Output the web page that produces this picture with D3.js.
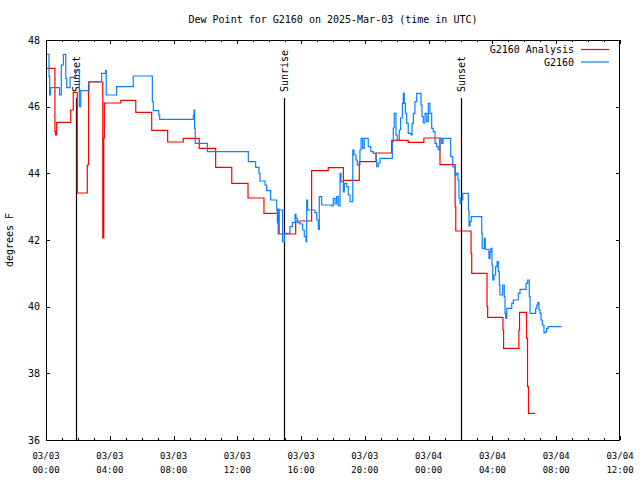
<!DOCTYPE html>
<html>
<head>
<meta charset="utf-8">
<script src="https://cdn.jsdelivr.net/npm/d3@7"></script>
<style>
  html, body { margin: 0; padding: 0; background: #fff; }
  svg { display: block; }
  text { font-family: "DejaVu Sans Mono", "Liberation Mono", monospace; fill: #000; }
</style>
</head>
<body>
<script>
// ---------------- DATA ----------------
const chartTitle = "Dew Point for G2160 on 2025-Mar-03 (time in UTC)";
const yLabel = "degrees F";
const seriesNames = ["G2160 Analysis", "G2160"];
const seriesColors = ["#ff0000", "#0a80ff"];

// hours since 2025-03-03 00:00 UTC
const redHours = [0, 0.56, 0.60, 0.67, 1.55, 1.71, 1.96, 2.59, 2.67, 3.56, 3.62, 3.66, 4.69, 5.63, 6.63, 7.63, 8.61, 9.61, 10.64, 11.65, 12.67, 13.67, 14.57, 15.66, 16.66, 17.70, 18.65, 19.65, 20.70, 21.68, 22.72, 23.70, 24.71, 25.66, 25.70, 26.66, 26.70, 27.66, 27.70, 28.66, 28.70, 29.66, 29.70, 30.14, 30.20, 30.26, 30.67];
const redValues = [47.15, 45.25, 45.15, 45.53, 45.9, 46.43, 43.41, 44.25, 46.74, 42.06, 45.06, 46.11, 46.19, 45.83, 45.29, 44.94, 45.05, 44.75, 44.18, 43.70, 43.26, 42.80, 42.18, 42.57, 44.08, 44.17, 43.79, 44.35, 44.61, 44.99, 44.93, 45.06, 44.26, 43.0, 42.27, 41.6, 41.0, 40.0, 39.68, 39.3, 38.75, 39.3, 39.83, 39.05, 37.6, 36.8, 36.8];

const blueHours = [0.03, 0.19, 0.23, 0.28, 0.85, 0.96, 1.09, 1.24, 1.30, 1.51, 1.86, 2.09, 2.18, 2.70, 3.49, 3.74, 3.78, 4.43, 5.47, 6.67, 6.73, 7.07, 7.13, 9.24, 9.28, 9.32, 9.36, 10.12, 12.69, 13.15, 13.36, 13.42, 13.74, 13.84, 14.09, 14.47, 14.51, 14.53, 14.61, 14.63, 14.84, 14.95, 15.30, 15.45, 15.62, 15.68, 15.76, 15.93, 16.10, 16.20, 16.31, 16.35, 16.41, 16.87, 16.98, 17.08, 17.14, 17.29, 17.92, 18.02, 18.13, 18.23, 18.33, 18.44, 18.50, 18.65, 18.71, 18.86, 18.96, 19.07, 19.24, 19.32, 19.44, 19.52, 19.69, 19.76, 19.86, 19.96, 20.21, 20.37, 20.53, 20.70, 20.74, 20.84, 20.95, 21.37, 21.72, 21.78, 21.84, 21.95, 22.03, 22.16, 22.24, 22.35, 22.41, 22.47, 22.54, 22.62, 22.72, 22.89, 22.96, 23.04, 23.14, 23.25, 23.52, 23.58, 23.66, 23.77, 23.88, 23.98, 24.08, 24.19, 24.29, 24.40, 24.50, 24.60, 24.71, 24.82, 24.90, 25.38, 25.51, 25.65, 25.76, 25.84, 25.90, 25.97, 26.03, 26.14, 26.49, 26.53, 26.59, 26.67, 27.33, 27.36, 27.49, 27.55, 27.78, 27.85, 27.91, 27.97, 28.02, 28.10, 28.20, 28.29, 28.37, 28.43, 28.47, 28.64, 28.74, 28.79, 28.83, 28.90, 29.21, 29.31, 29.62, 29.73, 30.11, 30.21, 30.31, 30.36, 30.71, 30.78, 30.84, 30.92, 30.98, 31.05, 31.13, 31.23, 31.34, 31.40, 31.50, 32.34];
const blueValues = [47.57, 46.90, 46.35, 46.57, 46.35, 47.25, 47.57, 46.85, 46.57, 46.88, 47.10, 46.00, 46.48, 46.75, 47.00, 47.08, 46.35, 46.60, 46.92, 46.15, 45.88, 45.75, 45.62, 45.75, 45.90, 45.35, 44.90, 44.65, 44.35, 44.18, 44.00, 43.77, 43.65, 43.48, 43.20, 42.90, 42.51, 42.93, 42.20, 42.90, 41.95, 42.20, 42.40, 42.52, 42.77, 42.65, 42.52, 42.48, 42.30, 42.10, 41.95, 43.20, 42.90, 42.82, 42.60, 42.32, 43.30, 43.05, 43.02, 43.25, 43.08, 43.30, 43.02, 44.00, 43.75, 43.44, 43.70, 43.60, 43.35, 43.15, 44.70, 44.55, 44.40, 44.25, 44.70, 45.05, 44.75, 45.05, 44.80, 44.65, 44.60, 44.40, 44.20, 44.31, 44.45, 44.45, 44.95, 45.36, 45.80, 45.15, 45.00, 45.30, 45.66, 46.10, 46.40, 46.10, 45.80, 45.50, 45.20, 45.15, 45.50, 45.80, 46.15, 46.40, 46.05, 45.70, 45.51, 45.80, 45.55, 46.10, 45.80, 45.35, 45.25, 44.90, 44.80, 44.70, 45.05, 44.90, 45.05, 44.50, 44.19, 43.95, 44.01, 43.80, 43.26, 43.10, 43.20, 43.40, 42.90, 42.42, 42.55, 42.70, 42.20, 41.75, 42.05, 41.72, 41.45, 41.65, 41.75, 41.25, 40.80, 40.95, 41.20, 41.35, 41.05, 40.65, 40.35, 40.65, 40.30, 39.80, 39.65, 39.95, 40.10, 40.20, 40.40, 40.52, 40.70, 40.80, 40.30, 39.80, 39.95, 40.05, 40.12, 39.90, 39.80, 39.60, 39.45, 39.21, 39.25, 39.35, 39.40, 39.40];

const eventNames = ["Sunset", "Sunrise", "Sunset"];
const eventHours = [1.91, 14.90, 26.0];

const xTickHours = [0, 4, 8, 12, 16, 20, 24, 28, 32, 36];
const xTickDates = ["03/03", "03/03", "03/03", "03/03", "03/03", "03/03", "03/04", "03/04", "03/04", "03/04"];
const xTickTimes = ["00:00", "04:00", "08:00", "12:00", "16:00", "20:00", "00:00", "04:00", "08:00", "12:00"];
const yTicks = [36, 38, 40, 42, 44, 46, 48];

// ---------------- CHART ----------------
const W = 640, H = 480;
const L = 46, R = 620, T = 40, B = 440;

const svg = d3.select("body").append("svg").attr("width", W).attr("height", H);

const x = d3.scaleLinear().domain([0, 36]).range([L, R]);
const y = d3.scaleLinear().domain([36, 48]).range([B, T]);

// title
svg.append("text").attr("x", 333).attr("y", 23).attr("text-anchor", "middle")
  .style("font-size", "10px").text(chartTitle);

// y label
svg.append("text").attr("transform", `translate(13,${240}) rotate(-90)`)
  .attr("text-anchor", "middle").style("font-size", "10px").text(yLabel);

// ticks (gnuplot style, inward on all four sides)
const minorHours = d3.range(0, 37, 1);
const tickG = svg.append("g").attr("stroke", "#000").attr("stroke-width", 1).attr("shape-rendering", "crispEdges");
minorHours.forEach(h => {
  const len = (h % 4 === 0) ? 4 : 2;
  const xx = Math.round(x(h)) + 0.5;
  tickG.append("line").attr("x1", xx).attr("x2", xx).attr("y1", B).attr("y2", B - len);
  tickG.append("line").attr("x1", xx).attr("x2", xx).attr("y1", T).attr("y2", T + len);
});
yTicks.forEach(v => {
  const yy = Math.round(y(v)) + 0.5;
  tickG.append("line").attr("x1", L).attr("x2", L + 4).attr("y1", yy).attr("y2", yy);
  tickG.append("line").attr("x1", R).attr("x2", R - 4).attr("y1", yy).attr("y2", yy);
});

// y tick labels
svg.append("g").selectAll("text").data(yTicks).join("text")
  .attr("x", L - 6).attr("y", d => y(d)).attr("dy", "0.35em")
  .attr("text-anchor", "end").style("font-size", "10px").text(d => d);

// x tick labels
const xl = svg.append("g");
xTickHours.forEach((h, i) => {
  xl.append("text").attr("x", x(h)).attr("y", 459).attr("text-anchor", "middle")
    .style("font-size", "9px").text(xTickDates[i]);
  xl.append("text").attr("x", x(h)).attr("y", 473).attr("text-anchor", "middle")
    .style("font-size", "9px").text(xTickTimes[i]);
});

// event lines
eventHours.forEach((h, i) => {
  const xx = Math.round(x(h)) + 0.5;
  svg.append("line").attr("x1", xx).attr("x2", xx).attr("y1", 98).attr("y2", B)
    .attr("stroke", "#000").attr("stroke-width", 1.2);
  svg.append("text").attr("transform", `translate(${xx + 0.5},92) rotate(-90)`)
    .attr("text-anchor", "start").attr("dominant-baseline", "middle")
    .style("font-size", "10px").text(eventNames[i]);
});

// series
const line = d3.line().x(d => x(d[0])).y(d => y(d[1])).curve(d3.curveStepAfter);
const redData = redHours.map((h, i) => [h, redValues[i]]);
const blueData = blueHours.map((h, i) => [h, blueValues[i]]);

svg.append("path").datum(redData).attr("d", line)
  .attr("fill", "none").attr("stroke", seriesColors[0]).attr("stroke-width", 1.2);
svg.append("path").datum(blueData).attr("d", line)
  .attr("fill", "none").attr("stroke", seriesColors[1]).attr("stroke-width", 1.2);

// border
svg.append("rect").attr("x", L + 0.5).attr("y", T + 0.5).attr("width", R - L - 1).attr("height", B - T)
  .attr("fill", "none").attr("stroke", "#000").attr("stroke-width", 1).attr("shape-rendering", "crispEdges");

// legend
const legY = [49.5, 62];
seriesNames.forEach((n, i) => {
  svg.append("text").attr("x", 574).attr("y", legY[i]).attr("dy", "0.35em")
    .attr("text-anchor", "end").style("font-size", "10px").text(n);
  svg.append("line").attr("x1", 581).attr("x2", 609).attr("y1", legY[i]).attr("y2", legY[i])
    .attr("stroke", seriesColors[i]).attr("stroke-width", 1.2);
});
</script>
</body>
</html>
